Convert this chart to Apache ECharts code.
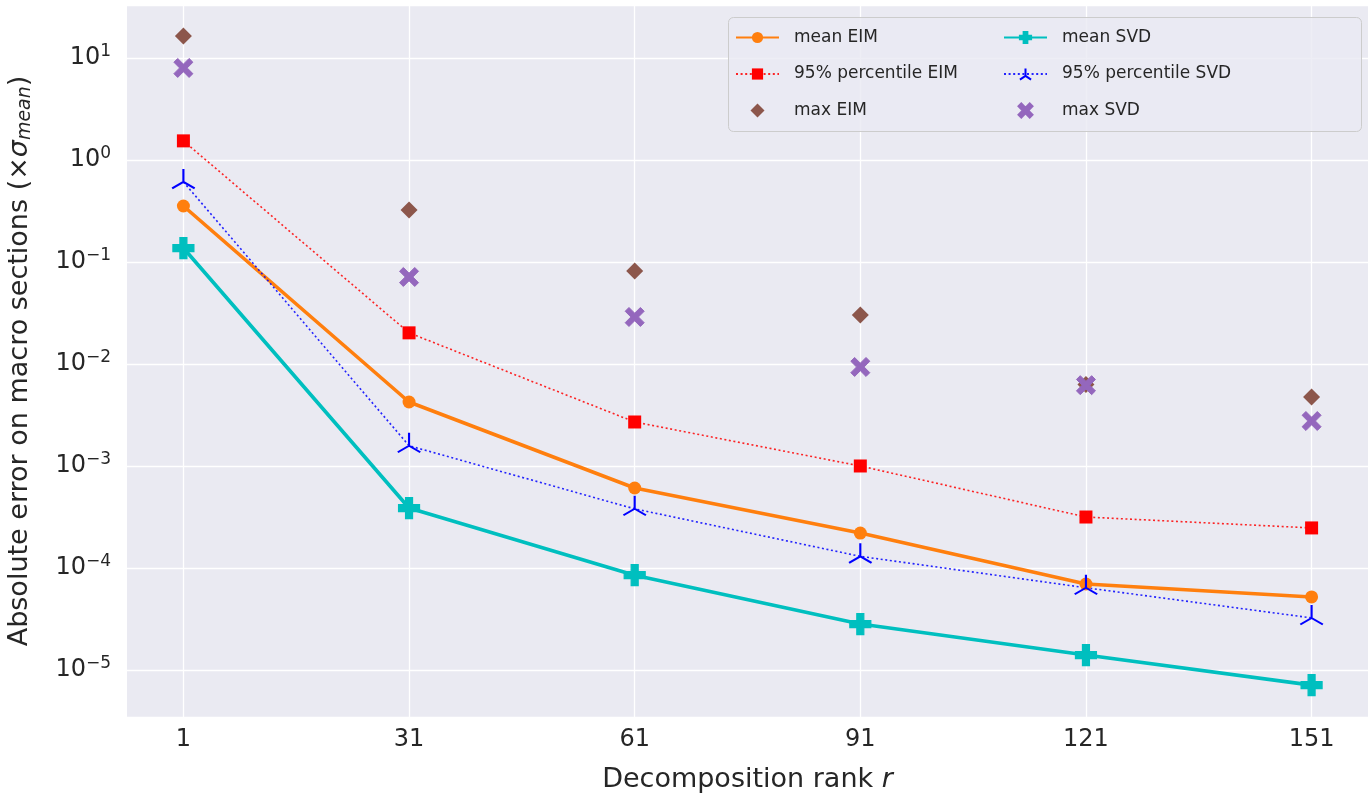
<!DOCTYPE html>
<html>
<head>
<meta charset="utf-8">
<script src="https://cdn.jsdelivr.net/npm/echarts@6/dist/echarts.min.js"></script>
<style>
html,body{margin:0;padding:0;background:#ffffff;}
#main{width:1369px;height:794px;}
</style>
</head>
<body>
<div id="main"></div>
<script>
// ---- data ----
var ranks = [1, 31, 61, 91, 121, 151];
var meanEIM = [0.354, 0.00424, 6.08e-4, 2.2e-4, 6.97e-5, 5.2e-5];
var p95EIM = [1.54, 0.0202, 0.0027, 1.0e-3, 3.16e-4, 2.47e-4];
var maxEIM = [16.4, 0.323, 0.0816, 0.0302, 6.3e-3, 4.75e-3];
var meanSVD = [0.137, 3.87e-4, 8.5e-5, 2.82e-5, 1.40e-5, 7.1e-6];
var p95SVD = [0.61, 1.58e-3, 3.8e-4, 1.3e-4, 6.4e-5, 3.24e-5];
var maxSVD = [7.99, 0.0713, 0.0289, 9.35e-3, 6.2e-3, 2.76e-3];
var xTicks = [1, 31, 61, 91, 121, 151];

function pairs(ys) { return ranks.map(function (r, i) { return [r, ys[i]]; }); }

var FONT = 'DejaVu Sans';
var TXT = '#262626';
var plusPath = 'path://M1,0H2V1H3V2H2V3H1V2H0V1H1Z';
var xPath = 'path://M0,0.8L0.8,0L2,1.2L3.2,0L4,0.8L2.8,2L4,3.2L3.2,4L2,2.8L0.8,4L0,3.2L1.2,2Z';
var diamondPath = 'path://M1,0L2,1L1,2L0,1Z';
var triPath = 'path://M0,-1L0,0M0,0L-0.866,0.5M0,0L0.866,0.5';

var chart = echarts.init(document.getElementById('main'), null, {renderer: 'canvas'});
var legendCommon = {
  orient: 'vertical', top: 24, z: 5,
  itemWidth: 43, itemHeight: 14, itemGap: 19.5,
  symbolKeepAspect: true,
  textStyle: {fontFamily: FONT, fontSize: 17, color: TXT, padding: [0, 0, 0, 10]}
};
var option = {
  animation: false,
  backgroundColor: '#ffffff',
  textStyle: {fontFamily: FONT},
  grid: {left: 127, right: 1, top: 5, bottom: 77, show: true, backgroundColor: '#eaeaf2', borderWidth: 0,
    containLabel: false, outerBoundsMode: 'none'},
  graphic: [{
    type: 'rect', left: 728, top: 17, z: 3,
    shape: {width: 633, height: 114, r: 5},
    style: {fill: 'rgba(234,234,242,0.8)', stroke: '#cccccc', lineWidth: 1}
  }],
  legend: [
    Object.assign({data: ['mean EIM', '95% percentile EIM', {name: 'max EIM', icon: diamondPath}], left: 730}, legendCommon),
    Object.assign({data: ['mean SVD', '95% percentile SVD', {name: 'max SVD', icon: xPath}], left: 998}, legendCommon)
  ],
  xAxis: {
    type: 'value', min: -6.5, max: 158.5,
    axisLine: {show: false},
    axisTick: {show: false, customValues: xTicks},
    splitLine: {show: true, lineStyle: {color: '#ffffff', width: 1.3}},
    axisLabel: {customValues: xTicks, fontSize: 24, color: TXT, margin: 11, fontFamily: FONT},
    name: 'Decomposition rank {i|r}', nameLocation: 'middle', nameGap: 49,
    nameTextStyle: {fontSize: 27, color: TXT, fontFamily: FONT,
      rich: {i: {fontSize: 27, fontStyle: 'italic', color: TXT, fontFamily: FONT}}}
  },
  yAxis: {
    type: 'log', logBase: 10,
    min: Math.pow(10, -5.461), max: Math.pow(10, 1.5196),
    axisLine: {show: false},
    axisTick: {show: false},
    minorTick: {show: false},
    splitLine: {show: true, lineStyle: {color: '#ffffff', width: 1.3}},
    axisLabel: {
      margin: 16, color: TXT, fontFamily: FONT,
      formatter: function (v) {
        var l = Math.log10(v);
        var e = Math.round(l);
        if (Math.abs(l - e) > 1e-6) return '';
        var s = e < 0 ? '\u2212' + (-e) : '' + e;
        return '{b|10}{s|' + s + '}';
      },
      rich: {
        b: {fontSize: 24, color: TXT, fontFamily: FONT},
        s: {fontSize: 17, color: TXT, fontFamily: FONT, padding: [0, 0, 12, 0]}
      }
    },
    name: 'Absolute error on macro sections (\u00d7{g|\u03c3}{m|mean})',
    nameLocation: 'middle', nameGap: 92,
    nameTextStyle: {fontSize: 27, color: TXT, fontFamily: FONT,
      rich: {
        g: {fontSize: 27, fontStyle: 'italic', color: TXT, fontFamily: FONT},
        m: {fontSize: 19, fontStyle: 'italic', color: TXT, fontFamily: FONT, padding: [12, 0, 0, 0]}
      }}
  },
  series: [{
    name: 'mean EIM', type: 'line', data: pairs(meanEIM), z: 3,
    symbol: 'circle', symbolSize: 13,
    itemStyle: {color: '#ff7f0e'},
    lineStyle: {color: '#ff7f0e', width: 3.6}
  }, {
    name: '95% percentile EIM', type: 'line', data: pairs(p95EIM), z: 3,
    symbol: 'rect', symbolSize: 13,
    itemStyle: {color: '#ff0000'},
    lineStyle: {color: '#ff0000', width: 1.6, type: [2, 2.6], opacity: 0.85}
  }, {
    name: 'max EIM', type: 'scatter', data: pairs(maxEIM), z: 3,
    symbol: diamondPath, symbolSize: 17,
    itemStyle: {color: '#8c564b', opacity: 1}
  }, {
    name: 'mean SVD', type: 'line', data: pairs(meanSVD), z: 3,
    symbol: plusPath, symbolSize: 21,
    itemStyle: {color: '#00bfbf', borderColor: '#00bfbf', borderWidth: 1.2},
    lineStyle: {color: '#00bfbf', width: 3.6}
  }, {
    name: '95% percentile SVD', type: 'line', data: pairs(p95SVD), z: 3,
    symbol: triPath, symbolSize: [22.5, 19.5], symbolOffset: [0, -3.25],
    itemStyle: {color: '#0000ff', borderColor: '#0000ff', borderWidth: 2},
    lineStyle: {color: '#0000ff', width: 1.6, type: [2, 2.6], opacity: 0.85}
  }, {
    name: 'max SVD', type: 'scatter', data: pairs(maxSVD), z: 3,
    symbol: xPath, symbolSize: 19,
    itemStyle: {color: '#9467bd', borderColor: '#9467bd', borderWidth: 1, opacity: 1}
  }]
};
chart.setOption(option);
</script>
</body>
</html>
